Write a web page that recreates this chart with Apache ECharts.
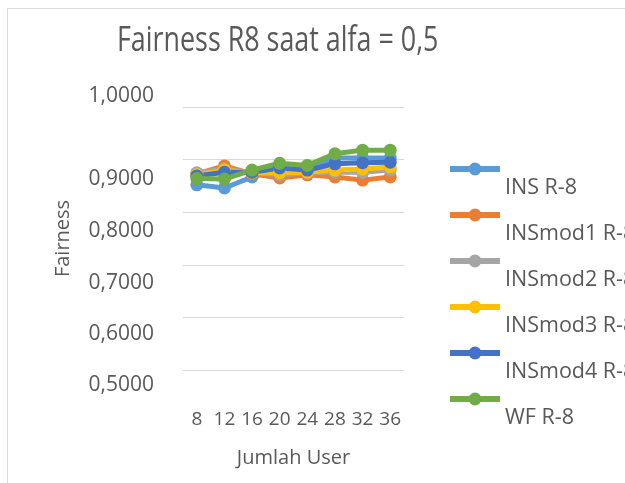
<!DOCTYPE html>
<html>
<head>
<meta charset="utf-8">
<script src="https://cdn.jsdelivr.net/npm/echarts@6/dist/echarts.min.js"></script>
<style>
  html, body { margin: 0; padding: 0; background: #fff; }
  #chart { width: 625px; height: 483px; }
</style>
</head>
<body>
<div id="chart"></div>
<script>
  // jumlah user (kategori sumbu x)
  var users = ['8', '12', '16', '20', '24', '28', '32', '36'];
  var seriesNames = ['INS R-8', 'INSmod1 R-8', 'INSmod2 R-8', 'INSmod3 R-8', 'INSmod4 R-8', 'WF R-8'];
  var insR8     = [0.852, 0.846, 0.867, 0.882, 0.882, 0.903, 0.903, 0.903];
  var insMod1R8 = [0.873, 0.888, 0.873, 0.865, 0.871, 0.867, 0.861, 0.867];
  var insMod2R8 = [0.875, 0.882, 0.875, 0.871, 0.875, 0.876, 0.876, 0.880];
  var insMod3R8 = [0.871, 0.880, 0.875, 0.875, 0.876, 0.880, 0.882, 0.886];
  var insMod4R8 = [0.869, 0.876, 0.876, 0.884, 0.880, 0.892, 0.894, 0.895];
  var wfR8      = [0.864, 0.863, 0.880, 0.893, 0.889, 0.911, 0.918, 0.918];
  var colors = ['#5B9BD5', '#ED7D31', '#A5A5A5', '#FFC000', '#4472C4', '#70AD47'];
  var titleText = 'Fairness R8 saat alfa = 0,5';

  var font = '"Open Sans", sans-serif';
  var textColor = '#595959';

  var myChart = echarts.init(document.getElementById('chart'));

  var allData = [insR8, insMod1R8, insMod2R8, insMod3R8, insMod4R8, wfR8];
  var series = allData.map(function (d, i) {
    return {
      name: seriesNames[i],
      type: 'line',
      data: d,
      symbol: 'circle',
      symbolSize: 13,
      color: colors[i],
      lineStyle: { width: 5 },
      animation: false
    };
  });

  // label sumbu y di Excel agak bergeser dari garis grid
  function yStyle(v) {
    return 'v' + Math.round(v * 10);
  }

  var option = {
    backgroundColor: '#fff',
    graphic: [{
      type: 'rect',
      shape: { x: 7.5, y: 8.5, width: 700, height: 520 },
      style: { fill: 'none', stroke: '#d9d9d9', lineWidth: 1 },
      silent: true
    }, {
      // judul: huruf Calibri lebih sempit, jadi dipersempit sedikit
      type: 'text',
      x: 117,
      y: 41,
      scaleX: 0.79,
      silent: true,
      style: {
        text: titleText,
        fontFamily: font,
        fontSize: 34,
        fill: textColor,
        align: 'left',
        verticalAlign: 'middle'
      }
    }],
    legend: {
      orient: 'vertical',
      left: 447,
      top: 139,
      padding: 0,
      itemWidth: 50,
      itemHeight: 16,
      itemGap: -14,
      data: seriesNames,
      lineStyle: { width: 6 },
      formatter: function (name) {
        return '{t|' + name + '}';
      },
      textStyle: {
        fontFamily: font, fontSize: 21.5, color: textColor,
        rich: {
          t: { fontFamily: font, fontSize: 21.5, color: textColor, lineHeight: 21, padding: [38, 0, 0, 0] }
        }
      }
    },
    grid: { left: 183, right: 221, top: 107, bottom: 113 },
    xAxis: {
      type: 'category',
      data: users,
      name: 'Jumlah User',
      nameLocation: 'middle',
      nameGap: 78,
      nameTextStyle: { fontFamily: font, fontSize: 20, color: textColor },
      axisLine: { lineStyle: { color: '#d9d9d9', width: 1 } },
      axisTick: { show: false },
      axisLabel: { interval: 0, fontFamily: font, fontSize: 19, color: textColor, margin: 40 }
    },
    yAxis: {
      type: 'value',
      min: 0.5,
      max: 1.0,
      interval: 0.1,
      name: 'Fairness',
      nameLocation: 'middle',
      nameGap: 110,
      nameTextStyle: { fontFamily: font, fontSize: 20, color: textColor },
      axisLine: { show: false },
      axisTick: { show: false },
      splitLine: { lineStyle: { color: '#d9d9d9', width: 1 } },
      axisLabel: {
        margin: 29,
        fontFamily: font, fontSize: 21, color: textColor,
        formatter: function (v) {
          return '{' + yStyle(v) + '|' + v.toFixed(4).replace('.', ',') + '}';
        },
        rich: {
          v10: { fontFamily: font, fontSize: 21, color: textColor, padding: [0, 0, 22, 0] },
          v9: { fontFamily: font, fontSize: 21, color: textColor, padding: [39, 0, 0, 0] },
          v8: { fontFamily: font, fontSize: 21, color: textColor, padding: [38, 0, 0, 0] },
          v7: { fontFamily: font, fontSize: 21, color: textColor, padding: [37, 0, 0, 0] },
          v6: { fontFamily: font, fontSize: 21, color: textColor, padding: [33, 0, 0, 0] },
          v5: { fontFamily: font, fontSize: 21, color: textColor, padding: [31, 0, 0, 0] }
        }
      }
    },
    series: series
  };

  myChart.setOption(option, true);
</script>
</body>
</html>
